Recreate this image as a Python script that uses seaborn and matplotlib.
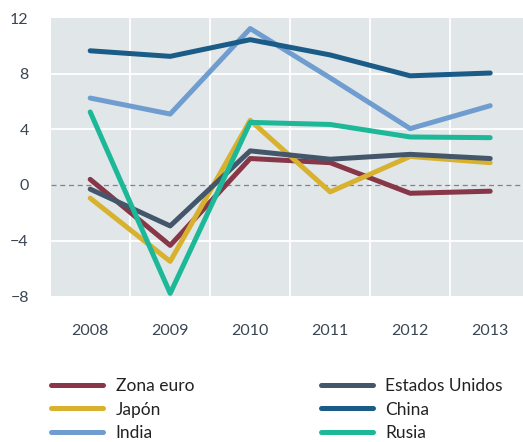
import matplotlib
matplotlib.use("Agg")
import matplotlib.pyplot as plt
import seaborn as sns
import pandas as pd
from matplotlib.lines import Line2D

years = [2008, 2009, 2010, 2011, 2012, 2013]
zona_euro = [0.4, -4.35, 1.9, 1.6, -0.6, -0.45]
japon = [-0.95, -5.5, 4.65, -0.5, 2.05, 1.6]
india = [6.25, 5.1, 11.25, 7.7, 4.05, 5.7]
estados_unidos = [-0.3, -2.95, 2.45, 1.85, 2.2, 1.9]
china = [9.65, 9.25, 10.45, 9.35, 7.85, 8.05]
rusia = [5.25, -7.8, 4.5, 4.35, 3.45, 3.4]

series_names = ["Zona euro", "Japón", "India", "Estados Unidos", "China", "Rusia"]
series_values = [zona_euro, japon, india, estados_unidos, china, rusia]
colors = ["#873748", "#d8b22f", "#6f9dcf", "#44576a", "#1b5b87", "#1cb898"]
yticks = [-8, -4, 0, 4, 8, 12]
ytick_labels = ["\u22128", "\u22124", "0", "4", "8", "12"]

rows = []
for name, vals in zip(series_names, series_values):
    for y, v in zip(years, vals):
        rows.append({"year": y, "value": v, "serie": name})
df = pd.DataFrame(rows)

sns.set_theme(style="white")
plt.rcParams["font.family"] = ["Lato", "DejaVu Sans"]

fig = plt.figure(figsize=(5.23, 4.42), dpi=100)
ax = fig.add_axes([0.0975, 0.330, 0.9025, 0.629])
ax.set_facecolor("#e1e6e9")

palette = dict(zip(series_names, colors))
sns.lineplot(data=df, x="year", y="value", hue="serie", hue_order=series_names,
             palette=palette, linewidth=3.6, ax=ax, legend=False,
             solid_capstyle="round", zorder=3)

ax.axhline(0, color="#7a8590", linestyle=(0, (4, 3)), linewidth=0.9, zorder=2)

ax.set_xlim(2007.51, 2013.41)
ax.set_ylim(-8, 12)
ax.set_yticks(yticks)
ax.set_yticklabels(ytick_labels)
ax.set_xticks(years)
ax.set_xticklabels([str(y) for y in years])
for gx in [2008.5, 2009.5, 2010.5, 2011.5, 2012.5]:
    ax.axvline(gx, color="white", linewidth=1.3, zorder=1)
for gy in [-4, 4, 8]:
    ax.axhline(gy, color="white", linewidth=1.3, zorder=1)
for s in ax.spines.values():
    s.set_visible(False)
ax.tick_params(axis="both", length=0, labelsize=11.5, colors="#3a4652")
ax.tick_params(axis="x", pad=20)
ax.tick_params(axis="y", pad=16)
ax.set_xlabel("")
ax.set_ylabel("")

handles = [Line2D([0], [0], color=c, lw=3.6, solid_capstyle="round") for c in colors]
fig.legend(handles, series_names, loc="upper left", bbox_to_anchor=(0.085, 0.16),
           ncol=2, frameon=False, fontsize=12.5, handlelength=3.0, handletextpad=0.7,
           columnspacing=7.3, labelspacing=0.42, borderaxespad=0,
           labelcolor="#222222")

fig.savefig("out.png", dpi=100)
